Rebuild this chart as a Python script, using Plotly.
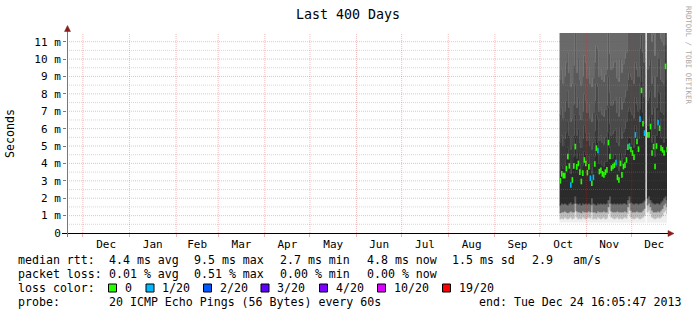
import pandas as pd
import plotly.graph_objects as go

# ---------------- data ----------------
first_day = "2013-10-14"

median_ms = [3.0, 3.4, 3.3, 3.3, 3.7, 4.4, 3.86, 2.76, 3.05, 3.86,
             4.97, 3.8, 4.0, 3.5, 2.96, 3.44, 4.2, 4.0, 3.47, 3.8,
             3.15, 2.86, 3.2, 3.97, 4.88, 4.74, 3.53, 3.6, 3.4, 3.34,
             3.5, 3.63, 5.2, 4.4, 3.73, 3.82, 3.9, 4.05, 3.2, 3.05,
             4.0, 3.34, 3.82, 3.9, 4.2, 4.94, 5.0, 4.8, 4.6, 4.36,
             5.64, 5.26, 4.82, 6.55, 8.2, 6.28, 5.74, None, 5.64, 5.64,
             6.12, 4.6, 4.97, 3.82, 5.0, 6.35, 6.03, 4.88, 4.78, 4.6,
             9.58, 4.8]

loss_of_20 = [0, 0, 0, 0, 0, 0, 0, 1, 0, 0,
              0, 0, 0, 0, 0, 0, 0, 0, 0, 0,
              1, 0, 1, 0, 0, 1, 0, 0, 0, 0,
              0, 0, 0, 0, 0, 0, 0, 1, 0, 0,
              0, 0, 0, 0, 0, 0, 1, 0, 0, 0,
              1, 0, 0, 1, 0, 0, 1, None, 0, 0,
              0, 0, 0, 0, 0, 1, 0, 0, 0, 0,
              0, 0]

smoke_lo = [0.62, 0.6, 0.6, 0.58, 0.6, 0.6, 0.62, 0.6, 0.58, 0.6,
            0.6, 0.6, 0.62, 0.6, 0.6, 0.6, 0.58, 0.6, 0.6, 0.6,
            0.6, 0.62, 0.6, 0.6, 0.6, 0.58, 0.6, 0.6, 0.6, 0.6,
            0.6, 0.6, 0.6, 0.62, 0.6, 0.6, 0.6, 0.6, 0.6, 0.58,
            0.6, 0.6, 0.6, 0.6, 0.6, 0.62, 0.6, 0.6, 0.6, 0.6,
            0.6, 0.58, 0.6, 0.6, 0.6, 0.6, 0.6, None, 0.6, 0.6,
            0.6, 0.62, 0.6, 0.6, 0.6, 0.6, 0.58, 0.6, 0.6, 0.6,
            0.6, 0.6]

smoke_w1 = [0.8, 0.85, 0.8, 0.9, 0.85, 0.8, 0.85, 0.9, 0.8, 0.85,
            1.3, 0.9, 0.8, 0.85, 0.8, 0.9, 0.85, 0.8, 0.85, 0.9,
            0.85, 1.2, 0.8, 0.85, 0.8, 0.9, 0.85, 0.8, 0.85, 0.9,
            0.8, 0.85, 1.1, 1.3, 0.9, 0.85, 0.8, 0.85, 0.9, 0.8,
            0.85, 0.8, 0.85, 0.9, 0.85, 1.1, 1.3, 0.9, 0.85, 0.8,
            0.85, 0.9, 0.85, 0.8, 0.85, 0.9, 1.0, None, 1.2, 1.3,
            1.1, 0.9, 0.85, 0.8, 0.85, 0.9, 0.85, 0.9, 1.0, 1.2,
            1.3, 1.1]

smoke_w2 = [1.15, 1.2, 1.2, 1.25, 1.2, 1.15, 1.2, 1.25, 1.2, 1.2,
            1.7, 1.25, 1.2, 1.2, 1.15, 1.25, 1.2, 1.2, 1.2, 1.25,
            1.2, 1.6, 1.2, 1.2, 1.15, 1.25, 1.2, 1.2, 1.2, 1.25,
            1.2, 1.2, 1.5, 1.7, 1.25, 1.2, 1.2, 1.2, 1.25, 1.2,
            1.2, 1.2, 1.2, 1.25, 1.2, 1.5, 1.7, 1.3, 1.2, 1.2,
            1.2, 1.25, 1.2, 1.2, 1.2, 1.3, 1.4, None, 1.6, 1.7,
            1.5, 1.3, 1.2, 1.2, 1.2, 1.25, 1.2, 1.3, 1.4, 1.6,
            1.7, 1.5]

smoke_w3 = [1.6, 1.7, 1.65, 1.7, 1.65, 1.6, 1.7, 1.75, 1.65, 1.7,
            2.1, 1.7, 1.65, 1.7, 1.6, 1.7, 1.65, 1.7, 1.65, 1.7,
            1.65, 2.0, 1.7, 1.65, 1.6, 1.7, 1.65, 1.7, 1.65, 1.7,
            1.65, 1.7, 1.9, 2.1, 1.7, 1.65, 1.7, 1.65, 1.7, 1.65,
            1.7, 1.65, 1.7, 1.7, 1.65, 1.9, 2.1, 1.75, 1.7, 1.65,
            1.7, 1.7, 1.65, 1.7, 1.7, 1.75, 1.85, None, 2.0, 2.1,
            1.9, 1.75, 1.7, 1.65, 1.7, 1.7, 1.65, 1.75, 1.85, 2.0,
            2.1, 1.9]

smoke_c1 = [3.5, 3.9, 3.7, 3.9, 4.2, 4.9, 4.2, 3.4, 3.7, 4.4,
            5.4, 4.3, 4.6, 4.0, 3.5, 3.9, 4.7, 4.5, 4.0, 4.4,
            3.7, 3.4, 3.8, 4.4, 5.4, 5.2, 4.0, 4.2, 3.9, 3.8,
            4.1, 4.1, 5.8, 4.9, 4.3, 4.3, 4.5, 4.5, 3.8, 3.6,
            4.6, 3.9, 4.3, 4.5, 4.8, 5.5, 5.5, 5.4, 5.1, 4.9,
            6.2, 5.8, 5.4, 7.1, 8.7, 6.9, 6.3, None, 6.2, 6.2,
            6.7, 5.2, 5.6, 4.4, 5.6, 7.0, 6.6, 5.5, 5.4, 5.2,
            10.0, 5.4]

smoke_c2 = [5.2, 5.6, 5.0, 5.4, 5.8, 6.4, 5.6, 4.8, 5.0, 5.6,
            6.8, 5.6, 6.0, 5.2, 4.9, 5.4, 6.2, 5.8, 5.3, 5.7,
            5.0, 4.8, 5.2, 5.9, 6.8, 6.6, 5.3, 5.6, 5.2, 5.1,
            5.5, 5.6, 7.2, 6.3, 5.6, 5.7, 5.9, 6.0, 5.2, 5.0,
            6.1, 5.4, 5.8, 6.0, 6.4, 7.0, 7.2, 7.0, 6.8, 6.6,
            7.8, 7.4, 7.0, 8.6, 9.6, 8.4, 7.8, None, 7.6, 7.8,
            8.2, 6.8, 7.2, 6.0, 7.2, 8.5, 8.1, 7.0, 6.9, 6.8,
            10.8, 7.0]

smoke_c3 = [6.8, 7.2, 6.6, 7.0, 7.6, 8.2, 7.2, 6.4, 6.6, 7.4,
            8.6, 7.2, 7.8, 6.8, 6.5, 7.0, 8.0, 7.6, 6.9, 7.4,
            6.6, 6.4, 6.9, 7.6, 8.6, 8.4, 7.0, 7.2, 6.8, 6.7,
            7.1, 7.3, 9.0, 8.1, 7.3, 7.4, 7.6, 7.8, 6.9, 6.7,
            7.8, 7.1, 7.5, 7.8, 8.2, 8.8, 9.2, 9.0, 8.8, 8.6,
            9.8, 9.4, 9.0, 10.6, 11.4, 10.4, 9.8, None, 9.4, 9.6,
            10.0, 8.6, 9.0, 7.8, 9.0, 10.4, 10.0, 8.8, 8.7, 8.6,
            12.0, 8.8]

smoke_c4 = [8.8, 9.4, 8.6, 9.0, 9.8, 10.4, 9.2, 8.4, 8.6, 9.6,
            11.6, 9.2, 10.0, 8.8, 8.5, 9.0, 10.2, 9.8, 8.9, 9.6,
            8.6, 8.4, 8.9, 9.8, 10.8, 10.6, 9.0, 9.4, 8.8, 8.7,
            9.1, 9.4, 11.6, 10.3, 9.4, 9.5, 9.8, 10.0, 8.9, 8.7,
            10.0, 9.2, 9.7, 10.0, 10.4, 11.6, 11.6, 11.6, 11.6, 11.6,
            11.6, 11.6, 11.6, 11.6, 11.6, 11.6, 11.6, None, 11.6, 11.6,
            11.6, 11.0, 11.4, 10.2, 11.6, 11.6, 11.6, 11.2, 11.0, 10.8,
            11.6, 11.2]

smoke_max_ms = 14.0

y_tick_values = [0, 1, 2, 3, 4, 5, 6, 7, 8, 9, 10, 11]
y_tick_labels = ["0", "1 m", "2 m", "3 m", "4 m", "5 m", "6 m", "7 m",
                 "8 m", "9 m", "10 m", "11 m"]

loss_levels = ["0", "1/20", "2/20", "3/20", "4/20", "10/20", "19/20"]
loss_level_counts = [0, 1, 2, 3, 4, 10, 19]
loss_level_colors = ["#26ff00", "#00b8ff", "#0059ff", "#5e00ff",
                     "#7e00ff", "#dd00ff", "#ff0000"]

# ---------------- layout helpers ----------------
W, H = 697, 315
PL, PR, PT, PB = 67, 667, 33, 233
MONO = "DejaVu Sans Mono"


def px_x(p):
    return (p - PL) / (PR - PL)


def px_y(p):
    return (PB - p) / (PB - PT)


n = len(median_ms)
days = pd.date_range(first_day, periods=n, freq="D")
fmt = "%Y-%m-%d %H:%M"
left = [d.strftime(fmt) for d in days]
right = [(d + pd.Timedelta(days=1)).strftime(fmt) for d in days]
center = [(d + pd.Timedelta(hours=12)).strftime(fmt) for d in days]


def band(lower, upper):
    segs, cur = [], []
    for i in range(n):
        if lower[i] is None or upper[i] is None:
            if cur:
                segs.append(cur)
                cur = []
        else:
            cur.append(i)
    if cur:
        segs.append(cur)
    xs, ys = [], []
    for seg in segs:
        for i in seg:
            xs += [left[i], right[i]]
            ys += [upper[i], upper[i]]
        for i in reversed(seg):
            xs += [right[i], left[i]]
            ys += [lower[i], lower[i]]
        xs.append(None)
        ys.append(None)
    return xs, ys


smoke_top = [smoke_max_ms if v is not None else None for v in smoke_c4]
layers = [
    (smoke_lo, smoke_w1, "#efefef"),
    (smoke_w1, smoke_w2, "#bdbdbd"),
    (smoke_w2, smoke_w3, "#6e6e6e"),
    (smoke_w3, smoke_c1, "#2b2b2b"),
    (smoke_c1, smoke_c2, "#3a3a3a"),
    (smoke_c2, smoke_c3, "#4a4a4a"),
    (smoke_c3, smoke_c4, "#5a5a5a"),
    (smoke_c4, smoke_top, "#6a6a6a"),
]

fig = go.Figure()
for lo, up, col in layers:
    xs, ys = band(lo, up)
    fig.add_trace(go.Scatter(x=xs, y=ys, mode="lines", fill="toself",
                             fillcolor=col, line=dict(width=0.4, color=col),
                             hoverinfo="skip", showlegend=False))

color_of = dict(zip(loss_level_counts, loss_level_colors))
mx, my, mc = [], [], []
for i in range(n):
    if median_ms[i] is None:
        continue
    mx.append(center[i])
    my.append(median_ms[i])
    mc.append(color_of[loss_of_20[i]])
fig.add_trace(go.Scatter(x=mx, y=my, mode="markers",
                         marker=dict(symbol="line-ns", size=4,
                                     line=dict(width=1.6, color=mc)),
                         hoverinfo="skip", showlegend=False))

# ---------------- grid (drawn over the smoke, as rrdtool does) ----------------
x0 = "2012-11-20 11:00"
x1 = "2013-12-24 11:00"
shapes = []
GRID_MAJOR = "rgba(210,40,40,0.3)"
GRID_MINOR = "rgba(140,140,140,0.35)"
for v in y_tick_values[1:]:
    shapes.append(dict(type="line", xref="paper", yref="y", x0=0, x1=1,
                       y0=v, y1=v, layer="above",
                       line=dict(color=GRID_MAJOR, width=1, dash="1px,1px")))
for v in y_tick_values:
    if v + 0.5 < 11.5:
        shapes.append(dict(type="line", xref="paper", yref="y", x0=0, x1=1,
                           y0=v + 0.5, y1=v + 0.5, layer="above",
                           line=dict(color=GRID_MINOR, width=1, dash="1px,1px")))
for m in pd.date_range("2012-12-01", "2013-12-01", freq="MS"):
    ms = m.strftime(fmt)
    shapes.append(dict(type="line", xref="x", yref="paper", x0=ms, x1=ms,
                       y0=0, y1=1, layer="above",
                       line=dict(color=GRID_MAJOR, width=1, dash="1px,1px")))

# axes lines and arrows
shapes.append(dict(type="line", xref="paper", yref="paper",
                   x0=px_x(62), x1=px_x(669), y0=px_y(233.5), y1=px_y(233.5),
                   layer="above", line=dict(color="#000000", width=1)))
shapes.append(dict(type="line", xref="paper", yref="paper",
                   x0=px_x(67.5), x1=px_x(67.5), y0=px_y(237), y1=px_y(30),
                   layer="above", line=dict(color="#777777", width=1)))
ARROW = "#8a1c1c"
shapes.append(dict(type="path", xref="paper", yref="paper", layer="above",
                   path="M {} {} L {} {} L {} {} Z".format(
                       px_x(67.5), px_y(25.5), px_x(64.5), px_y(31.5),
                       px_x(70.5), px_y(31.5)),
                   fillcolor=ARROW, line=dict(color=ARROW, width=0.5)))
shapes.append(dict(type="path", xref="paper", yref="paper", layer="above",
                   path="M {} {} L {} {} L {} {} Z".format(
                       px_x(674), px_y(233.5), px_x(668), px_y(230.5),
                       px_x(668), px_y(236.5)),
                   fillcolor=ARROW, line=dict(color=ARROW, width=0.5)))

# loss colour boxes
box_left_px = [108.5, 146, 203.5, 261, 319.5, 377.5, 442.5]
for bx, col in zip(box_left_px, loss_level_colors):
    shapes.append(dict(type="rect", xref="paper", yref="paper",
                       x0=px_x(bx), x1=px_x(bx + 8), y0=px_y(284), y1=px_y(292),
                       fillcolor=col, line=dict(color="#000000", width=1)))

# ---------------- texts ----------------
annotations = []


def txt(s, xp, yp, size=11.6, anchor="left", color="#000000", angle=0):
    annotations.append(dict(text=s, xref="paper", yref="paper",
                            x=px_x(xp), y=px_y(yp), xanchor=anchor,
                            yanchor="middle", showarrow=False, borderpad=0,
                            textangle=angle,
                            font=dict(family=MONO, size=size, color=color)))


txt("Last 400 Days", 348, 14, size=13.3, anchor="center")
txt("Seconds", 10, 134, size=11.6, anchor="center", angle=-90)
txt("RRDTOOL / TOBI OETIKER", 689, 55, size=7.4, anchor="center",
    color="#a8a8a8", angle=90)

L1, L2, L3, L4 = 259.5, 273.5, 287.5, 301.5
txt("median rtt:", 16.5, L1)
for s, xp in [("4.4 ms avg", 107.5), ("9.5 ms max", 193.3), ("2.7 ms min", 279.3),
              ("4.8 ms now", 365.5), ("1.5 ms sd", 451), ("2.9", 530.5),
              ("am/s", 572.3)]:
    txt(s, xp, L1)
txt("packet loss:", 16.5, L2)
for s, xp in [("0.01 % avg", 107.5), ("0.51 % max", 193.3),
              ("0.00 % min", 279.3), ("0.00 % now", 365.5)]:
    txt(s, xp, L2)
txt("loss color:", 16.5, L3)
for s, bx in zip(loss_levels, box_left_px):
    txt(s, bx + 15, L3)
txt("probe:", 16.5, L4)
txt("20 ICMP Echo Pings (56 Bytes) every 60s", 107.5, L4)
txt("end: Tue Dec 24 16:05:47 2013", 478.3, L4)

fig.update_layout(
    width=W, height=H,
    margin=dict(l=PL, r=W - PR, t=PT, b=H - PB, pad=0),
    paper_bgcolor="#ffffff", plot_bgcolor="#ffffff",
    showlegend=False,
    shapes=shapes, annotations=annotations,
    xaxis=dict(type="date", range=[x0, x1], dtick="M1", tick0="2012-12-01",
               ticklabelmode="period", tickformat="%b", ticks="outside",
               ticklen=3, tickcolor="rgba(210,40,40,0.35)", showgrid=False,
               zeroline=False, showline=False, fixedrange=True,
               ticklabelstandoff=-2,
               tickfont=dict(family=MONO, size=11, color="#000000")),
    yaxis=dict(range=[0, 11.5], tickvals=y_tick_values, ticktext=y_tick_labels,
               ticks="outside", ticklen=3, tickcolor="#777777", showgrid=False,
               zeroline=False, showline=False, fixedrange=True,
               tickfont=dict(family=MONO, size=11, color="#000000")),
)

fig.write_html("out.html")
